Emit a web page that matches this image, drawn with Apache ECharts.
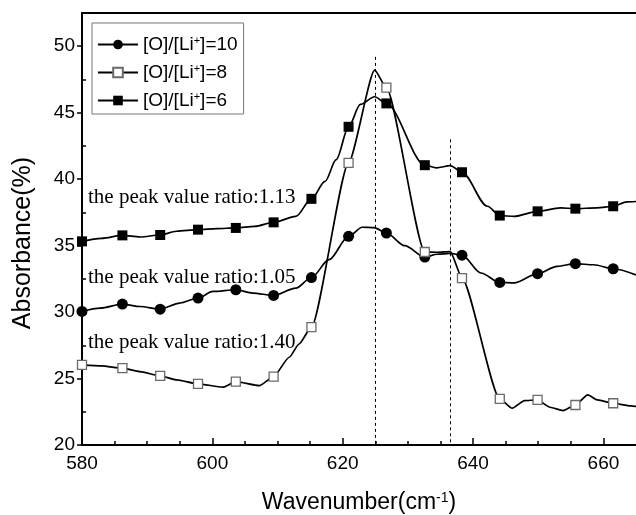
<!DOCTYPE html>
<html>
<head>
<meta charset="utf-8">
<script src="https://cdn.jsdelivr.net/npm/echarts@6/dist/echarts.min.js"></script>
<style>
    html, body { margin: 0; padding: 0; background: #fff; }
    #chart { width: 636px; height: 515px; }
</style>
</head>
<body>
<div id="chart"></div>
<script>
// wavenumbers where a marker is drawn
let markerX = [580, 586.2, 592.0, 597.8, 603.6, 609.4, 615.2, 620.9, 626.7, 632.6, 638.3, 644.1, 649.9, 655.7, 661.5];

let names = ['[O]/[Li+]=10', '[O]/[Li+]=8', '[O]/[Li+]=6'];

// [O]/[Li+]=10
let x10 = [580, 582.8, 586.2, 588.9, 592.0, 595.0, 597.8, 600.1, 603.6, 606.2, 609.4, 612.8, 615.2, 617.9, 620.9, 623.0, 624.8, 626.7, 629.5, 632.6, 634.5, 636.5, 638.3, 641.2, 644.1, 646.3, 649.9, 652.9, 655.7, 658.5, 661.5, 665];
let y10 = [30.05, 30.3, 30.6, 30.42, 30.22, 30.68, 31.05, 31.55, 31.68, 31.43, 31.25, 31.8, 32.6, 33.94, 35.7, 36.38, 36.35, 35.95, 35.0, 34.14, 34.35, 34.42, 34.28, 32.94, 32.23, 32.19, 32.89, 33.44, 33.64, 33.56, 33.26, 32.8];

// [O]/[Li+]=8
let x8 = [580, 583, 586.2, 588.9, 592.0, 594.5, 597.8, 601.6, 603.6, 607.2, 609.4, 611.8, 613.3, 615.2, 620.9, 624.9, 626.7, 632.6, 634.5, 636.5, 638.3, 644.1, 646.0, 647.9, 649.9, 651.8, 653.8, 655.7, 657.6, 659.1, 661.5, 664.2, 665];
let y8 = [26.03, 25.95, 25.78, 25.52, 25.2, 24.9, 24.6, 24.35, 24.77, 24.47, 25.15, 26.6, 27.6, 28.87, 41.23, 48.2, 46.88, 34.52, 34.5, 34.55, 32.56, 23.47, 22.77, 23.34, 23.39, 22.84, 22.59, 23.01, 23.77, 23.39, 23.14, 22.94, 22.9];

// [O]/[Li+]=6
let x6 = [580, 583, 586.2, 588.9, 592.0, 594.5, 597.8, 600.7, 603.6, 606.5, 609.4, 612.8, 615.2, 617.3, 619.0, 620.9, 622.7, 624.9, 626.7, 632.6, 634.4, 636.5, 638.3, 642.2, 644.1, 646.3, 649.9, 653.4, 655.7, 659.0, 661.5, 663.6, 665];
let y6 = [35.32, 35.55, 35.77, 35.65, 35.8, 36.08, 36.2, 36.28, 36.33, 36.45, 36.75, 37.2, 38.52, 39.84, 41.47, 43.94, 45.62, 46.2, 45.7, 41.05, 40.85, 41.02, 40.52, 37.96, 37.26, 37.2, 37.58, 37.84, 37.78, 37.84, 37.96, 38.29, 38.32];

let xTicks = [580, 600, 620, 640, 660];
let xMinor = [585, 590, 595, 605, 610, 615, 625, 630, 635, 645, 650, 655];
let yTicks = [20, 25, 30, 35, 40, 45, 50];
let yMinor = [22.5, 27.5, 32.5, 37.5, 42.5, 47.5];

let peakX = [625, 636.5];
let peakTop = [49.2, 43.0];

let ratioText = ['the peak value ratio:1.13', 'the peak value ratio:1.05', 'the peak value ratio:1.40'];

const sans = 'Liberation Sans, Arial, sans-serif';
const serif = 'Liberation Serif, Times New Roman, serif';

function build(xs, ys) {
    return xs.map(function (x, i) {
        if (markerX.indexOf(x) >= 0) return [x, ys[i]];
        return { value: [x, ys[i]], symbol: 'none' };
    });
}

let chart = echarts.init(document.getElementById('chart'));

let line = { color: '#000', width: 1.7 };

let option = {
    animation: false,
    backgroundColor: '#fff',
    grid: { left: 82, right: 0, top: 13, bottom: 70 },
    legend: {
        orient: 'vertical',
        left: 92,
        top: 23,
        padding: [12, 6, 4, 5],
        itemGap: 9,
        itemWidth: 40,
        itemHeight: 12,
        borderColor: '#777',
        borderWidth: 1,
        backgroundColor: '#fff',
        data: names,
        formatter: function (name) { return name.replace('+', '{sup|+}'); },
        textStyle: {
            fontSize: 19, fontFamily: sans, color: '#000',
            rich: { sup: { fontSize: 11, fontFamily: sans, color: '#000', verticalAlign: 'top' } }
        }
    },
    xAxis: [
        {
            type: 'value', min: 580, max: 665, position: 'bottom',
            axisLine: { lineStyle: { color: '#000', width: 2 } },
            axisTick: { inside: true, length: 7, customValues: xTicks, lineStyle: { color: '#000', width: 1.5 } },
            axisLabel: { customValues: xTicks, fontSize: 19, fontFamily: sans, color: '#000', margin: 9 },
            splitLine: { show: false }
        },
        {
            type: 'value', min: 580, max: 665, position: 'bottom',
            axisLine: { show: false },
            axisTick: { inside: true, length: 4, customValues: xMinor, lineStyle: { color: '#000', width: 1.5 } },
            axisLabel: { show: false },
            splitLine: { show: false }
        },
        {
            type: 'value', min: 580, max: 665, position: 'top',
            axisLine: { lineStyle: { color: '#000', width: 2 } },
            axisTick: { show: false },
            axisLabel: { show: false },
            splitLine: { show: false }
        }
    ],
    yAxis: [
        {
            type: 'value', min: 20, max: 52.5, position: 'left',
            axisLine: { lineStyle: { color: '#000', width: 2 } },
            axisTick: { inside: false, length: 5, customValues: yTicks, lineStyle: { color: '#000', width: 1.5 } },
            axisLabel: { customValues: yTicks, fontSize: 19, fontFamily: sans, color: '#000', margin: 7 },
            splitLine: { show: false }
        },
        {
            type: 'value', min: 20, max: 52.5, position: 'left',
            axisLine: { show: false },
            axisTick: { inside: true, length: 4, customValues: yMinor, lineStyle: { color: '#000', width: 1.5 } },
            axisLabel: { show: false },
            splitLine: { show: false }
        }
    ],
    graphic: [
        { type: 'text', x: 88, y: 197, style: { text: ratioText[0], fontSize: 21, fontFamily: serif, fill: '#000', verticalAlign: 'middle' } },
        { type: 'text', x: 88, y: 277, style: { text: ratioText[1], fontSize: 21, fontFamily: serif, fill: '#000', verticalAlign: 'middle' } },
        { type: 'text', x: 88, y: 342, style: { text: ratioText[2], fontSize: 21, fontFamily: serif, fill: '#000', verticalAlign: 'middle' } },
        {
            type: 'text', x: 23, y: 243, rotation: Math.PI / 2,
            style: { text: 'Absorbance(%)', fontSize: 25, fontFamily: sans, fill: '#000', align: 'center', verticalAlign: 'middle' }
        },
        {
            type: 'text', x: 359, y: 503,
            style: {
                text: 'Wavenumber(cm{sup|-1})', fontSize: 23, fontFamily: sans, fill: '#000', align: 'center', verticalAlign: 'middle',
                rich: { sup: { fontSize: 14, fontFamily: sans, fill: '#000', verticalAlign: 'top' } }
            }
        }
    ],
    series: [
        {
            name: names[0], type: 'line', data: build(x10, y10),
            smooth: 0.3, smoothMonotone: 'x',
            symbol: 'circle', symbolSize: 11,
            itemStyle: { color: '#000' },
            lineStyle: line,
            emphasis: { disabled: true }
        },
        {
            name: names[1], type: 'line', data: build(x8, y8),
            smooth: 0.2, smoothMonotone: 'x',
            symbol: 'rect', symbolSize: 9,
            itemStyle: { color: '#fff', borderColor: '#6a6a6a', borderWidth: 1.3 },
            lineStyle: line,
            emphasis: { disabled: true },
            markLine: {
                silent: true, symbol: 'none',
                label: { show: false },
                lineStyle: { color: '#000', width: 1, type: [3, 3] },
                data: peakX.map(function (x, i) { return [{ coord: [x, peakTop[i]] }, { coord: [x, 20] }]; })
            }
        },
        {
            name: names[2], type: 'line', data: build(x6, y6),
            smooth: 0.3, smoothMonotone: 'x',
            symbol: 'rect', symbolSize: 10,
            itemStyle: { color: '#000' },
            lineStyle: line,
            emphasis: { disabled: true }
        }
    ]
};
chart.setOption(option);
</script>
</body>
</html>
